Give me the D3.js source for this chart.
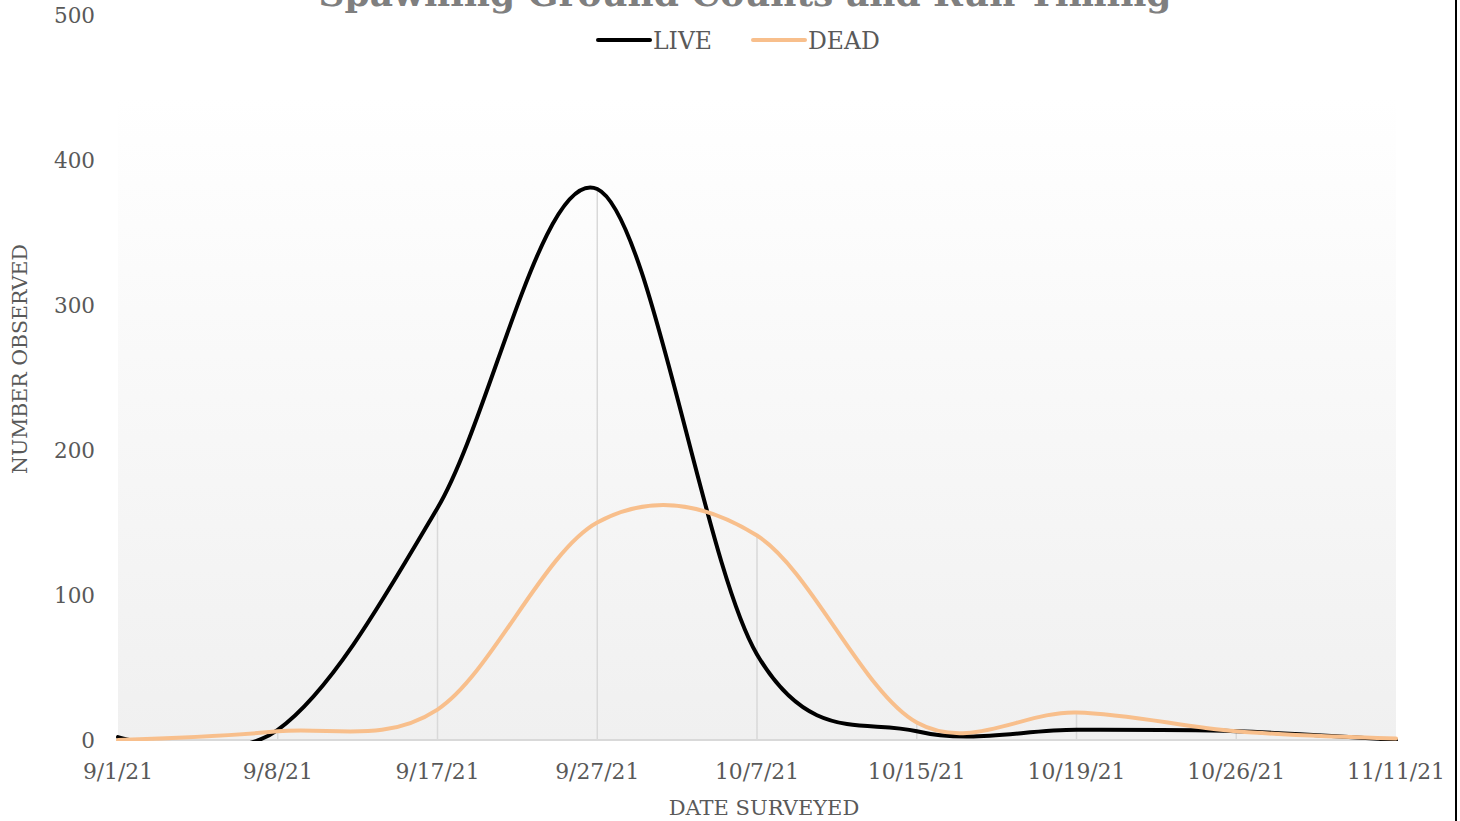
<!DOCTYPE html>
<html>
<head>
<meta charset="utf-8">
<script src="https://cdn.jsdelivr.net/npm/d3@7"></script>
<style>
  body { margin: 0; background: #fff; }
  svg { display: block; }
</style>
</head>
<body>
<svg id="chart" width="1460" height="821"></svg>
<script>
// chart data
const dates = ["9/1/21", "9/8/21", "9/17/21", "9/27/21", "10/7/21", "10/15/21", "10/19/21", "10/26/21", "11/11/21"]
const live = [2, 7, 160, 380, 59, 6, 7, 6, 0]
const dead = [0, 6, 21, 150, 141, 12, 19, 6, 1]
const yTicks = [0, 100, 200, 300, 400, 500]

var svg = d3.select("#chart"),
    width = +svg.attr("width"),
    height = +svg.attr("height");

const font = "'DejaVu Serif', serif";
const textColor = "#595959";

var x = d3.scalePoint().domain(dates).range([118, 1396]);
var y = d3.scaleLinear().domain([0, 500]).range([740, 15]);

// plot area background gradient
var defs = svg.append("defs");
var grad = defs.append("linearGradient")
    .attr("id", "bg")
    .attr("x1", 0).attr("y1", 0).attr("x2", 0).attr("y2", 1);
grad.append("stop").attr("offset", "0%").attr("stop-color", "#ffffff");
grad.append("stop").attr("offset", "100%").attr("stop-color", "#f0f0f0");

defs.append("clipPath").attr("id", "plotClip")
    .append("rect")
    .attr("x", 100).attr("y", 0)
    .attr("width", 1320).attr("height", y(0) + 1);

svg.append("rect")
    .attr("x", 118).attr("y", 97)
    .attr("width", 1396 - 118).attr("height", y(0) - 97)
    .attr("fill", "url(#bg)");

// drop lines from the higher series down to the axis
svg.append("g")
    .selectAll("line")
    .data(dates)
    .enter()
    .append("line")
    .attr("x1", d => x(d))
    .attr("x2", d => x(d))
    .attr("y1", (d, i) => y(Math.max(live[i], dead[i])))
    .attr("y2", y(0))
    .attr("stroke", "#d9d9d9")
    .attr("stroke-width", 1.5);

// x axis line
svg.append("line")
    .attr("x1", 118).attr("x2", 1396)
    .attr("y1", y(0)).attr("y2", y(0))
    .attr("stroke", "#d9d9d9")
    .attr("stroke-width", 2);

// y tick labels
svg.append("g")
    .selectAll("text")
    .data(yTicks)
    .enter()
    .append("text")
    .attr("x", 95)
    .attr("y", d => y(d))
    .attr("dy", "0.36em")
    .attr("text-anchor", "end")
    .style("font-family", font)
    .style("font-size", "21.5px")
    .style("fill", textColor)
    .text(d => d);

// x tick labels
svg.append("g")
    .selectAll("text")
    .data(dates)
    .enter()
    .append("text")
    .attr("x", d => x(d))
    .attr("y", 779)
    .attr("text-anchor", "middle")
    .style("font-family", font)
    .style("font-size", "21.8px")
    .style("fill", textColor)
    .text(d => d);

// axis titles
svg.append("text")
    .attr("x", 764).attr("y", 815)
    .attr("text-anchor", "middle")
    .style("font-family", font)
    .style("font-size", "21px")
    .style("fill", textColor)
    .text("DATE SURVEYED");

svg.append("text")
    .attr("transform", "translate(27,359) rotate(-90)")
    .attr("text-anchor", "middle")
    .style("font-family", font)
    .style("font-size", "20.5px")
    .style("fill", textColor)
    .text("NUMBER OBSERVED");

// title, cut off at the top edge like the original
svg.append("text")
    .attr("x", 745).attr("y", 6)
    .attr("text-anchor", "middle")
    .style("font-family", font)
    .style("font-size", "36px")
    .style("font-weight", "bold")
    .style("fill", "#7f7f7f")
    .text("Spawning Ground Counts and Run Timing");

// smoothed lines (Excel style)
var line = d3.line()
    .x((d, i) => x(dates[i]))
    .y(d => y(d))
    .curve(d3.curveCardinal.tension(0));

var lines = svg.append("g").attr("clip-path", "url(#plotClip)");
lines.append("path")
    .attr("d", line(live))
    .attr("fill", "none")
    .attr("stroke", "#000000")
    .attr("stroke-width", 4)
    .attr("stroke-linecap", "round");
lines.append("path")
    .attr("d", line(dead))
    .attr("fill", "none")
    .attr("stroke", "#f8bf8c")
    .attr("stroke-width", 4)
    .attr("stroke-linecap", "round");

// legend
var legend = [
    { name: "LIVE", color: "#000000", x: 598 },
    { name: "DEAD", color: "#f8bf8c", x: 753 }
];
var lg = svg.append("g")
    .selectAll("g")
    .data(legend)
    .enter()
    .append("g");
lg.append("line")
    .attr("x1", d => d.x).attr("x2", d => d.x + 52)
    .attr("y1", 40).attr("y2", 40)
    .attr("stroke", d => d.color)
    .attr("stroke-width", 4)
    .attr("stroke-linecap", "round");
lg.append("text")
    .attr("x", d => d.x + 55)
    .attr("y", 49)
    .style("font-family", font)
    .style("font-size", "23.5px")
    .style("fill", textColor)
    .text(d => d.name);

// dark edge on the right side of the picture
svg.append("line")
    .attr("x1", 1456).attr("x2", 1456)
    .attr("y1", 0).attr("y2", height)
    .attr("stroke", "#000")
    .attr("stroke-width", 2);
</script>
</body>
</html>
